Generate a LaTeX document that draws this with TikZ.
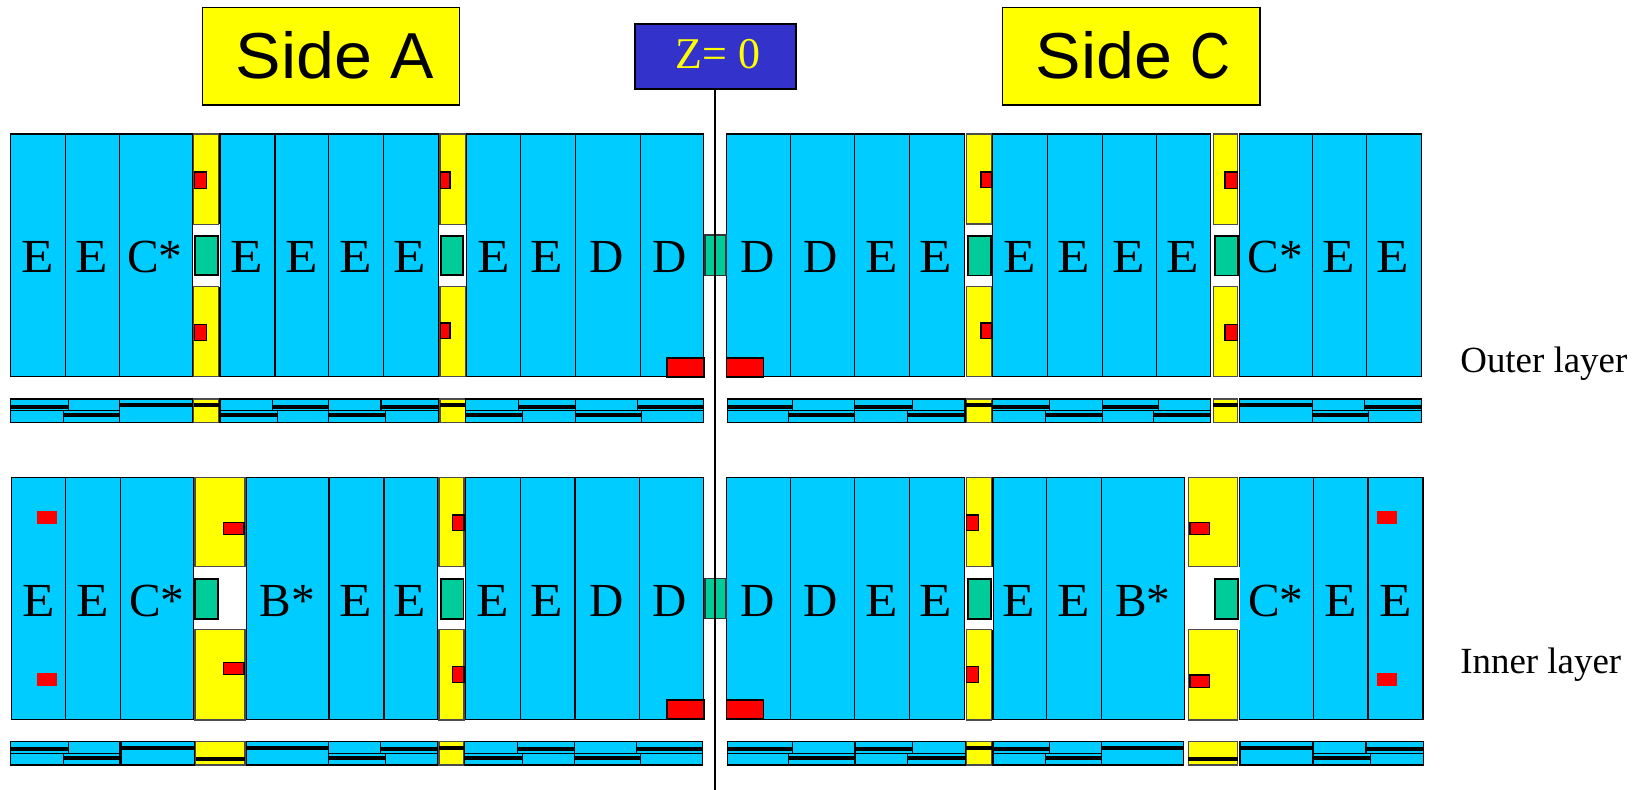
\documentclass[tikz,border=0pt]{standalone}
\usepackage{fontspec}
\setmainfont{Liberation Serif}
\newfontfamily\arialf{Liberation Sans}
\definecolor{cblue}{HTML}{00CCFF}
\definecolor{cyel}{HTML}{FFFF00}
\definecolor{cgrn}{HTML}{00CC99}
\definecolor{cred}{HTML}{FF0000}
\definecolor{cnavy}{HTML}{3333CC}
\tikzset{
  bluebox/.style={draw=black,fill=cblue,line width=0.6pt},
  yelbox/.style={draw=black!70,fill=cyel,line width=0.6pt},
  grnbox/.style={draw=black,fill=cgrn,line width=1pt},
  redbox/.style={draw=black,fill=cred,line width=0.6pt},
  redthick/.style={draw=black,fill=cred,line width=1pt},
  rednone/.style={fill=cred},
  gapbox/.style={fill=white},
  blackbar/.style={fill=black},
  modlabel/.style={font=\fontsize{27}{27}\selectfont,anchor=base,inner sep=0pt,text=black},
  layerlabel/.style={font=\fontsize{21}{21}\selectfont,anchor=base west,inner sep=0pt,text=black},
  sidebox/.style={draw=black,fill=cyel,line width=0.8pt,minimum width=5.15cm,minimum height=1.95cm,inner sep=0pt},
  sidetext/.style={font=\arialf\fontsize{37}{37}\selectfont,anchor=base west,inner sep=0pt,text=black},
}
\newcommand{\bl}[4]{\draw[bluebox] (#1,#3) rectangle (#2,#4);}
\newcommand{\yl}[4]{\draw[yelbox] (#1,#3) rectangle (#2,#4);}
\newcommand{\gp}[4]{\fill[gapbox] (#1,#3) rectangle (#2,#4);}
\newcommand{\gr}[4]{\draw[grnbox] (#1,#3) rectangle (#2,#4);}
\newcommand{\rd}[4]{\draw[redbox] (#1,#3) rectangle (#2,#4);}
\newcommand{\rt}[4]{\draw[redthick] (#1,#3) rectangle (#2,#4);}
\newcommand{\rn}[4]{\fill[rednone] (#1,#3) rectangle (#2,#4);}
% strips
\newcommand{\tn}[2]{\draw[bluebox] (#1,\sT) rectangle (#2,\sM);}
\newcommand{\tl}[2]{\draw[bluebox] (#1,\sT) rectangle (#2,\sM);\fill[blackbar] (#1,\sTa) rectangle (#2,\sTb);}
\newcommand{\bn}[2]{\draw[bluebox] (#1,\sM) rectangle (#2,\sB);}
\newcommand{\bll}[2]{\draw[bluebox] (#1,\sM) rectangle (#2,\sB);\fill[blackbar] (#1,\sBa) rectangle (#2,\sBb);}
\newcommand{\fl}[2]{\draw[bluebox] (#1,\sT) rectangle (#2,\sB);\fill[blackbar] (#1,\sFa) rectangle (#2,\sFb);}
\newcommand{\yf}[2]{\draw[yelbox] (#1,\sT) rectangle (#2,\sB);\fill[blackbar] (#1,\sFa) rectangle (#2,\sFb);}
\newcommand{\ylow}[2]{\draw[yelbox] (#1,\sT) rectangle (#2,\sB);\fill[blackbar] (#1,\sYa) rectangle (#2,\sYb);}
\newcommand{\ml}[3]{\node[modlabel] (#1) at (#2,\bas) {#3};}
\newcommand{\me}[2]{\node[modlabel] (#1) at (#2,\bas) {\scalebox{1.12}[1]{E}};}
\begin{document}
\begin{tikzpicture}[x=0.02cm,y=-0.02cm]
\useasboundingbox (0,0) rectangle (1647,790);
% ---------- headers
\node[sidebox] (sideA) at (331,56.3) {};
\node[sidetext] (sideAt) at (235.5,79) {\scalebox{1.05}[1]{Side} A};
\node[sidebox] (sideC) at (1131.2,56.3) {};
\node[sidetext] (sideCt) at (1035.5,79) {\scalebox{1.05}[1]{Side} \scalebox{0.85}[1]{C}};
\node[draw=black,fill=cnavy,line width=1pt,minimum width=3.22cm,minimum height=1.3cm,inner sep=0pt] (zbox) at (715.2,56.3) {};
\node[font=\fontsize{25}{25}\selectfont,anchor=base,inner sep=0pt,text=cyel] (zt) at (718,69) {Z= 0};
% ---------- outer layer
\def\rowa{134}\def\rowb{376.7}
\bl{10.3}{65.7}{\rowa}{\rowb}\bl{65.7}{119.3}{\rowa}{\rowb}\bl{119.3}{192.7}{\rowa}{\rowb}
\bl{220}{275}{\rowa}{\rowb}\bl{275}{328.7}{\rowa}{\rowb}\bl{328.7}{383.7}{\rowa}{\rowb}\bl{383.7}{438.3}{\rowa}{\rowb}
\bl{466}{520.7}{\rowa}{\rowb}\bl{520.7}{575.7}{\rowa}{\rowb}\bl{575.7}{640.4}{\rowa}{\rowb}\bl{640.4}{703.9}{\rowa}{\rowb}
\bl{726.4}{790.4}{\rowa}{\rowb}\bl{790.4}{854.6}{\rowa}{\rowb}\bl{854.6}{909.6}{\rowa}{\rowb}\bl{909.6}{964.6}{\rowa}{\rowb}
\bl{992.7}{1047.3}{\rowa}{\rowb}\bl{1047.3}{1102.3}{\rowa}{\rowb}\bl{1102.3}{1156.3}{\rowa}{\rowb}\bl{1156.3}{1210.7}{\rowa}{\rowb}
\bl{1239.7}{1312.3}{\rowa}{\rowb}\bl{1312.3}{1366.7}{\rowa}{\rowb}\bl{1366.7}{1421.7}{\rowa}{\rowb}
\gp{192.5}{219.7}{224.3}{286.7}\gp{438.7}{465.7}{224.3}{286.7}\gp{965}{992.3}{224.3}{286.7}\gp{1211.5}{1239.2}{224.3}{286.7}
\yl{193.7}{218.7}{\rowa}{224.3}\yl{193.7}{218.7}{286.7}{\rowb}
\yl{440}{465.4}{\rowa}{224.3}\yl{440}{465.4}{286.7}{\rowb}
\yl{966.4}{991.8}{\rowa}{224}\yl{966.4}{991.8}{286.7}{\rowb}
\yl{1213.3}{1237.7}{\rowa}{224.3}\yl{1213.3}{1237.7}{286.7}{\rowb}
\gr{195}{217.7}{235.7}{275}\gr{440.7}{463.2}{235.7}{275}\gr{967.9}{990.7}{235.7}{275.5}\gr{1214.7}{1237.7}{235.7}{275.5}
\rd{194.3}{206.7}{172}{188.3}\rd{194.3}{206.7}{324.3}{340.3}
\rd{440.3}{450}{172}{188.3}\rd{440.3}{450}{323}{338.3}
\rd{981}{991.8}{172}{187.7}\rd{981}{991.8}{323}{338.3}
\rd{1225}{1237.7}{172}{188.3}\rd{1225}{1237.7}{324.3}{340.3}
\rt{666.8}{704.3}{357.7}{376.7}\rt{726.4}{763.6}{358.3}{376.7}
\draw[grnbox,line width=0.8pt,draw=black!80] (705,235) rectangle (726,275.7);
\def\bas{272.7}
\me{o1}{38}\me{o2}{92}\ml{o3}{155}{C*}\me{o4}{247}\me{o5}{301.3}\me{o6}{355.7}\me{o7}{410}
\me{o8}{493.6}\me{o9}{547}\ml{o10}{607}{D}\ml{o11}{670}{D}\ml{o12}{757.5}{D}\ml{o13}{821}{D}\me{o14}{881.8}\me{o15}{935.7}
\me{o16}{1019.3}\me{o17}{1074}\me{o18}{1128.7}\me{o19}{1183}\ml{o20}{1275.3}{C*}\me{o21}{1339}\me{o22}{1392.7}
% ---------- outer strip
\def\sT{399}\def\sM{410.8}\def\sB{422.3}
\def\sTa{405}\def\sTb{409.3}\def\sBa{413}\def\sBb{417}\def\sFa{403}\def\sFb{407}\def\sYa{415}\def\sYb{419}
\tl{10.3}{68.3}\bn{10.3}{63.3}\tn{68.3}{119.3}\bll{63.3}{119.3}\fl{119.3}{192.7}\yf{193.7}{218.7}
\tn{220}{272.3}\bll{220}{277.3}\tl{272.3}{328.7}\bn{277.3}{328.7}
\tn{328.7}{381}\bll{328.7}{385.7}\tl{381}{438.3}\bn{385.7}{438.3}
\yf{440}{465.4}
\tn{465.7}{518.2}\bll{465.7}{522.9}\tl{518.2}{575.7}\bn{522.9}{575.7}
\tn{575.7}{637.5}\bll{575.7}{641.8}\tl{637.5}{703.6}\bn{641.8}{703.6}
\tl{727.1}{792.9}\bn{727.1}{788.6}\tn{792.9}{855}\bll{788.6}{854.6}
\tl{854.6}{912.5}\bn{854.6}{907.5}\tn{912.5}{965}\bll{907.5}{965}
\yf{966.4}{991.8}
\tl{992.7}{1049.7}\bn{992.7}{1045.3}\tn{1049.7}{1102.3}\bll{1045.3}{1102.3}
\tl{1102.3}{1158.3}\bn{1102.3}{1153.7}\tn{1158.3}{1210.7}\bll{1153.7}{1210.7}
\yf{1213.3}{1237.7}
\fl{1239.7}{1312.3}
\tn{1312.7}{1364.3}\bll{1312.7}{1368.7}\tl{1364.3}{1421.7}\bn{1368.7}{1421.7}
% ---------- inner layer
\def\rowa{477.7}\def\rowb{719.3}
\bl{11.3}{65.7}{\rowa}{\rowb}\bl{65.7}{120.3}{\rowa}{\rowb}\bl{120.3}{193.7}{\rowa}{\rowb}
\bl{246.3}{329}{\rowa}{\rowb}\bl{329}{384}{\rowa}{\rowb}\bl{384}{437.7}{\rowa}{\rowb}
\bl{465.4}{520.4}{\rowa}{\rowb}\bl{520.4}{575}{\rowa}{\rowb}\bl{575}{639.3}{\rowa}{\rowb}\bl{639.3}{703.6}{\rowa}{\rowb}
\bl{726.4}{790.4}{\rowa}{\rowb}\bl{790.4}{854.6}{\rowa}{\rowb}\bl{854.6}{909.6}{\rowa}{\rowb}\bl{909.6}{964.6}{\rowa}{\rowb}
\bl{993}{1046.3}{\rowa}{\rowb}\bl{1046.3}{1101.3}{\rowa}{\rowb}\bl{1101.3}{1184.3}{\rowa}{\rowb}
\bl{1239.7}{1313.7}{\rowa}{\rowb}\bl{1313.7}{1368}{\rowa}{\rowb}\bl{1368}{1423}{\rowa}{\rowb}
\gp{193.9}{246.1}{566.7}{629.7}\gp{438.2}{465.2}{566.7}{629.7}\gp{965}{992.8}{566.7}{629.7}\gp{1188}{1239.5}{566.7}{629.7}
\yl{195}{245}{\rowa}{566.7}\yl{195}{245}{629.7}{720}
\yl{439}{464}{\rowa}{566.7}\yl{439}{464}{629.7}{720}
\yl{966.4}{991.7}{\rowa}{566.7}\yl{966.4}{991.7}{629.7}{720}
\yl{1188.3}{1237.7}{\rowa}{566.7}\yl{1188.3}{1237.7}{629.7}{720}
\gr{195}{217.7}{578.7}{618.7}\gr{440.7}{463.6}{578.7}{618.7}\gr{967.9}{990.7}{578.7}{618.7}\gr{1214.7}{1237.7}{578.7}{618.7}
\rn{37}{57}{511}{524}\rn{37}{57}{673}{686}\rn{1377}{1397}{511}{524}\rn{1377}{1397}{673}{686}
\rd{223.7}{244}{522.7}{534.7}\rd{223.7}{244}{662.3}{674.7}
\rd{452.3}{464}{515}{530.3}\rd{452.3}{464}{666.7}{682.3}
\rd{966.4}{978.2}{515}{530.3}\rd{966.4}{978.2}{666.7}{682.3}
\rd{1190}{1209.3}{522.7}{534.7}\rd{1190}{1209.3}{675}{687.3}
\rt{666.8}{704.3}{700}{719}\rt{726.4}{763.6}{700}{719}
\draw[grnbox,line width=0.8pt,draw=black!80] (705,578.3) rectangle (726,618.7);
\def\bas{616}
\me{i1}{38.3}\me{i2}{92.3}\ml{i3}{156.7}{C*}\ml{i4}{287.3}{B*}\me{i5}{355.7}\me{i6}{410}
\me{i7}{492.9}\me{i8}{546.8}\ml{i9}{606.8}{D}\ml{i10}{670}{D}\ml{i11}{757.9}{D}\ml{i12}{821}{D}\me{i13}{881.8}\me{i14}{935.7}
\me{i15}{1019}\me{i16}{1073.3}\ml{i17}{1143}{B*}\ml{i18}{1276}{C*}\me{i19}{1340.7}\me{i20}{1395.3}
% ---------- inner strip
\def\sT{741.3}\def\sM{753.3}\def\sB{765}
\def\sTa{747}\def\sTb{751.3}\def\sBa{755.7}\def\sBb{760}\def\sFa{746}\def\sFb{750}\def\sYa{757}\def\sYb{761}
\tl{10.3}{68.3}\bn{10.3}{63.3}\tn{68.3}{120}\bll{63.3}{120}\fl{121}{194.3}\ylow{195.7}{245}\fl{246.3}{328.3}
\tn{328.3}{380.7}\bll{328.3}{385.7}\tl{380.7}{437.7}\bn{385.7}{437.7}
\yf{439}{464}
\tn{464.3}{517.5}\bll{464.3}{522.1}\tl{517.5}{574.6}\bn{522.1}{574.6}
\tn{574.6}{636.8}\bll{574.6}{640.7}\tl{636.8}{702.9}\bn{640.7}{702.9}
\tl{727.1}{792.9}\bn{727.1}{788.6}\tn{792.9}{855}\bll{788.6}{855}
\tl{855}{912.1}\bn{855}{907.9}\tn{912.1}{965.7}\bll{907.9}{965.7}
\yf{966.4}{991.7}
\tl{993}{1049.7}\bn{993}{1045.3}\tn{1049.7}{1101.3}\bll{1045.3}{1101.3}
\fl{1101.7}{1183.7}\ylow{1188.3}{1237.7}\fl{1240}{1313}
\tn{1313.7}{1366}\bll{1313.7}{1370.7}\tl{1366}{1423.7}\bn{1370.7}{1423.7}
% ---------- Z=0 line
\coordinate (zend) at (715.2,790);
\draw[line width=1.1pt,black] (zbox.south) -- (zend);
% ---------- labels
\node[layerlabel] (outerl) at (1460,373) {Outer layer};
\node[layerlabel] (innerl) at (1460,673) {Inner layer};
\end{tikzpicture}
\end{document}
